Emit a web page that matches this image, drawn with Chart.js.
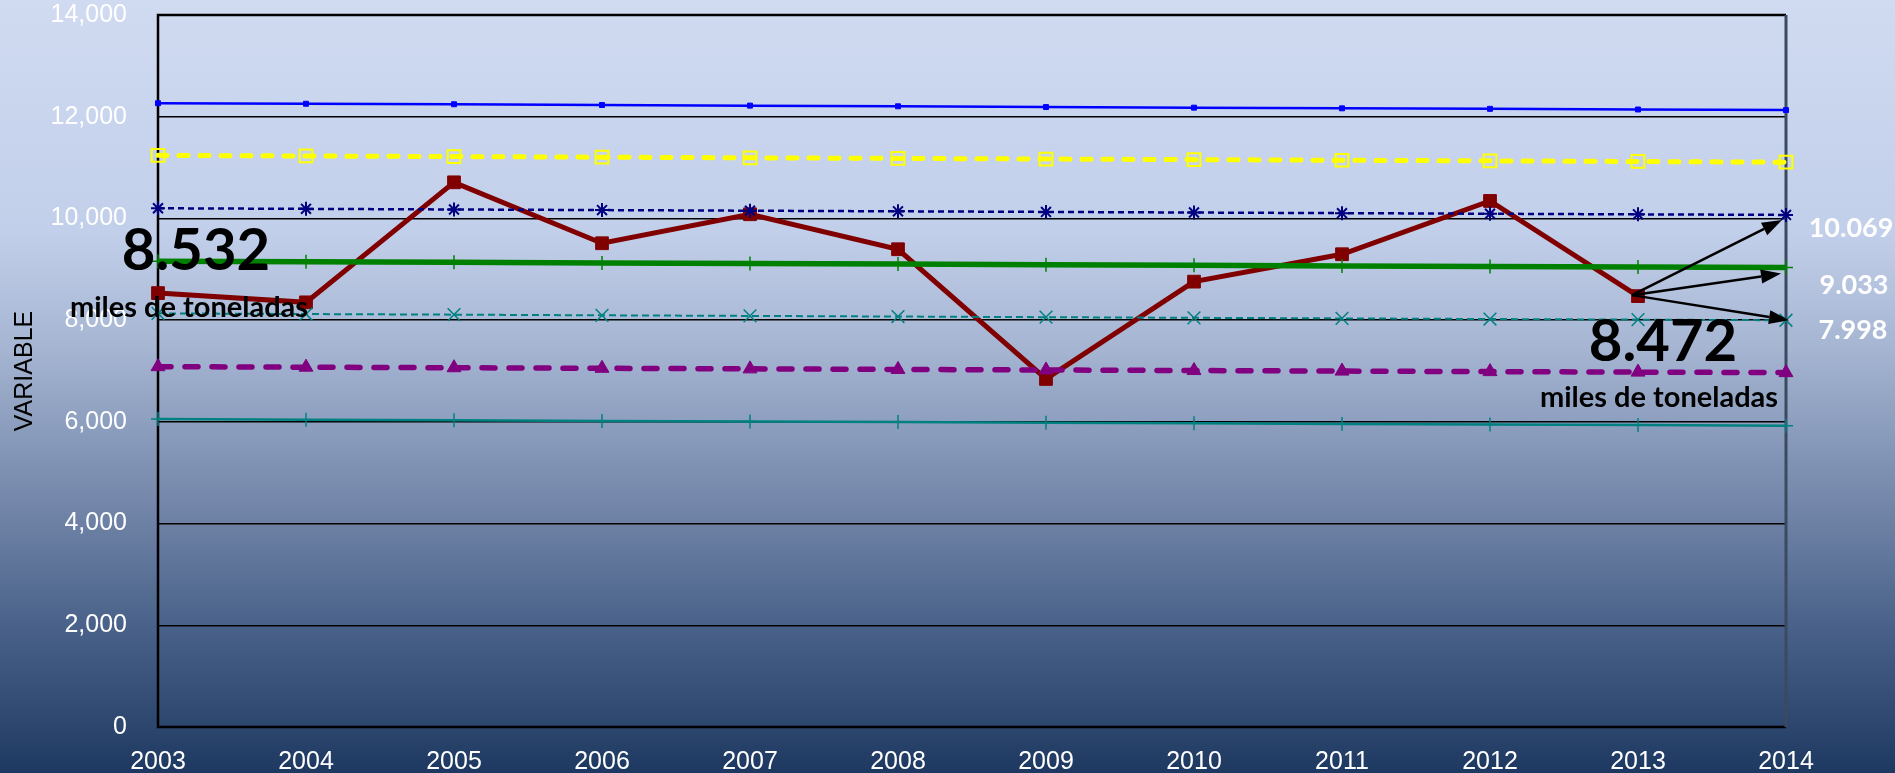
<!DOCTYPE html>
<html>
<head>
<meta charset="utf-8">
<script src="https://cdn.jsdelivr.net/npm/chart.js@4.4.1/dist/chart.umd.min.js"></script>
<style>
  html, body { margin: 0; padding: 0; background: #1e3961; }
  body { width: 1895px; height: 773px; overflow: hidden; }
</style>
</head>
<body>
<canvas id="chart" width="1895" height="773"></canvas>
<script>
// años del eje x
const years = ['2003', '2004', '2005', '2006', '2007', '2008', '2009', '2010', '2011', '2012', '2013', '2014'];

// series (miles de toneladas)
const serieAzul     = [12265, 12255, 12245, 12230, 12218, 12205, 12190, 12178, 12165, 12155, 12142, 12130];
const serieAmarilla = [11240, 11228, 11216, 11204, 11192, 11180, 11168, 11156, 11144, 11132, 11120, 11105];
const serieMarino   = [10200, 10188, 10176, 10164, 10152, 10140, 10128, 10116, 10104, 10092, 10080, 10069];
const serieVerde    = [9160, 9150, 9138, 9126, 9114, 9102, 9090, 9078, 9066, 9054, 9044, 9033];
const serieTurquesa = [8134, 8120, 8108, 8095, 8083, 8071, 8058, 8046, 8034, 8022, 8010, 7998];
const serieMorada   = [7085, 7075, 7064, 7053, 7042, 7031, 7020, 7009, 6998, 6988, 6978, 6968];
const serieVerdeAzul = [6055, 6043, 6031, 6019, 6007, 5995, 5983, 5971, 5959, 5947, 5936, 5925];
const produccion    = [8532, 8350, 10710, 9512, 10082, 9394, 6844, 8757, 9296, 10344, 8472, null];

const yTicks = [0, 2000, 4000, 6000, 8000, 10000, 12000, 14000];
const yTitle = 'VARIABLE';

// textos de las anotaciones
const notaInicio = '8.532';
const notaFin = '8.472';
const unidad = 'miles de toneladas';
const etiquetasFinales = ['10.069', '9.033', '7.998'];

// fondo degradado y marco del area de trazado
const fondo = {
    id: 'fondo',
    beforeDraw(chart) {
        const ctx = chart.ctx;
        const g = ctx.createLinearGradient(0, 0, 0, chart.height);
        g.addColorStop(0, '#d0dbf1');
        g.addColorStop(0.3, '#c2cfea');
        g.addColorStop(0.45, '#a5b5d2');
        g.addColorStop(0.65, '#7487aa');
        g.addColorStop(0.8, '#4c648b');
        g.addColorStop(1, '#1e3961');
        ctx.save();
        ctx.fillStyle = g;
        ctx.fillRect(0, 0, chart.width, chart.height);
        ctx.restore();
    },
    beforeDatasetsDraw(chart) {
        const a = chart.chartArea;
        const ctx = chart.ctx;
        ctx.save();
        ctx.strokeStyle = '#000';
        ctx.lineWidth = 2.5;
        ctx.beginPath();
        ctx.moveTo(a.right, a.top);
        ctx.lineTo(a.left, a.top);
        ctx.lineTo(a.left, a.bottom);
        ctx.lineTo(a.right, a.bottom);
        ctx.stroke();
        ctx.strokeStyle = '#3a4a60';
        ctx.lineWidth = 3;
        ctx.beginPath();
        ctx.moveTo(a.right, a.top);
        ctx.lineTo(a.right, a.bottom);
        ctx.stroke();
        ctx.restore();
    }
};

function flecha(ctx, x0, y0, x1, y1) {
    const ang = Math.atan2(y1 - y0, x1 - x0);
    const largo = 20, ancho = 7;
    const bx = x1 - Math.cos(ang) * largo;
    const by = y1 - Math.sin(ang) * largo;
    ctx.beginPath();
    ctx.moveTo(x0, y0);
    ctx.lineTo(bx, by);
    ctx.stroke();
    ctx.beginPath();
    ctx.moveTo(x1, y1);
    ctx.lineTo(bx + Math.sin(ang) * ancho, by - Math.cos(ang) * ancho);
    ctx.lineTo(bx - Math.sin(ang) * ancho, by + Math.cos(ang) * ancho);
    ctx.closePath();
    ctx.fill();
}

// anotaciones: valores grandes, flechas y etiquetas de la derecha
const notas = {
    id: 'notas',
    afterDraw(chart) {
        const ctx = chart.ctx;
        const x = chart.scales.x, y = chart.scales.y;
        const x0 = x.getPixelForValue(0), y0 = y.getPixelForValue(produccion[0]);
        const xf = x.getPixelForValue(10), yf = y.getPixelForValue(produccion[10]);
        const xe = x.getPixelForValue(11);

        ctx.save();
        ctx.textAlign = 'center';
        ctx.textBaseline = 'middle';
        ctx.fillStyle = '#000';
        ctx.font = 'bold 58px Lato';
        ctx.fillText(notaInicio, x0 + 38, y0 - 42);
        ctx.fillText(notaFin, xf + 25, yf + 46);
        ctx.font = 'bold 29px Lato';
        ctx.fillText(unidad, x0 + 31, y0 + 15);
        ctx.fillText(unidad, xf + 21, yf + 102);

        ctx.strokeStyle = '#000';
        ctx.lineWidth = 2.5;
        flecha(ctx, xf - 6, yf - 1, xe - 4, y.getPixelForValue(serieMarino[11]) + 5);
        flecha(ctx, xf - 6, yf - 1, xe - 5, y.getPixelForValue(serieVerde[11]) + 6);
        flecha(ctx, xf - 6, yf - 1, xe + 3, y.getPixelForValue(serieTurquesa[11]));

        ctx.fillStyle = '#fff';
        ctx.font = 'bold 27px Lato';
        ctx.fillText(etiquetasFinales[0], xe + 65, y.getPixelForValue(serieMarino[11]) + 13);
        ctx.fillText(etiquetasFinales[1], xe + 68, y.getPixelForValue(serieVerde[11]) + 18);
        ctx.fillText(etiquetasFinales[2], xe + 67, y.getPixelForValue(serieTurquesa[11]) + 10);
        ctx.restore();
    }
};

const transparente = 'rgba(0,0,0,0)';

new Chart(document.getElementById('chart').getContext('2d'), {
    type: 'line',
    data: {
        labels: years,
        datasets: [
            {
                data: serieAzul, borderColor: '#0000ff', borderWidth: 2.5,
                pointStyle: 'rect', pointRadius: 3.5, pointBackgroundColor: '#0000ff', pointBorderColor: '#0000ff', pointBorderWidth: 1
            },
            {
                data: serieAmarilla, borderColor: '#ffff00', borderWidth: 5, borderDash: [9, 12], borderCapStyle: 'round',
                pointStyle: 'rect', pointRadius: 9, pointBackgroundColor: transparente, pointBorderColor: '#ffff00', pointBorderWidth: 2
            },
            {
                data: serieMarino, borderColor: '#000080', borderWidth: 2.5, borderDash: [6, 4],
                pointStyle: 'star', pointRadius: 7, pointBorderColor: '#000080', pointBorderWidth: 2
            },
            {
                data: serieVerde, borderColor: '#008000', borderWidth: 5.5,
                pointStyle: 'cross', pointRadius: 7, pointBorderColor: '#008000', pointBorderWidth: 1.5
            },
            {
                data: serieTurquesa, borderColor: '#008080', borderWidth: 2, borderDash: [7, 4],
                pointStyle: 'crossRot', pointRadius: 9, pointBorderColor: '#008080', pointBorderWidth: 1.5
            },
            {
                data: serieMorada, borderColor: '#800080', borderWidth: 5.5, borderDash: [13, 14], borderCapStyle: 'round',
                pointStyle: 'triangle', pointRadius: 8, pointBackgroundColor: '#800080', pointBorderColor: '#800080', pointBorderWidth: 1
            },
            {
                data: serieVerdeAzul, borderColor: '#008080', borderWidth: 2.5,
                pointStyle: 'cross', pointRadius: 7, pointBorderColor: '#008080', pointBorderWidth: 1.5
            },
            {
                data: produccion, borderColor: '#800000', borderWidth: 5,
                pointStyle: 'rect', pointRadius: 9, pointBackgroundColor: '#800000', pointBorderColor: '#800000', pointBorderWidth: 1
            }
        ]
    },
    options: {
        responsive: false,
        animation: false,
        tension: 0,
        layout: { padding: { top: 15, right: 109, bottom: 0, left: 0 } },
        plugins: { legend: { display: false }, tooltip: { enabled: false } },
        scales: {
            x: {
                offset: false,
                grid: { display: false },
                border: { display: false },
                ticks: { color: '#fff', font: { family: 'Liberation Sans', size: 25 }, padding: 12, maxRotation: 0, autoSkip: false },
                afterFit(s) { s.height = 46; }
            },
            y: {
                min: 0, max: 14000,
                afterBuildTicks(s) { s.ticks = yTicks.map(v => ({ value: v })); },
                grid: { color: '#000', lineWidth: 1.5, drawTicks: true, tickLength: 31, tickColor: transparente },
                border: { display: false },
                ticks: {
                    color: '#fff', font: { family: 'Liberation Sans', size: 25 }, padding: 0,
                    callback: v => v.toLocaleString('en-US')
                },
                title: { display: true, text: yTitle, color: '#000', font: { family: 'Liberation Sans', size: 25 }, padding: { top: 10, bottom: 0 } },
                afterFit(s) { s.width = 158; }
            }
        }
    },
    plugins: [fondo, notas]
});
</script>
</body>
</html>
